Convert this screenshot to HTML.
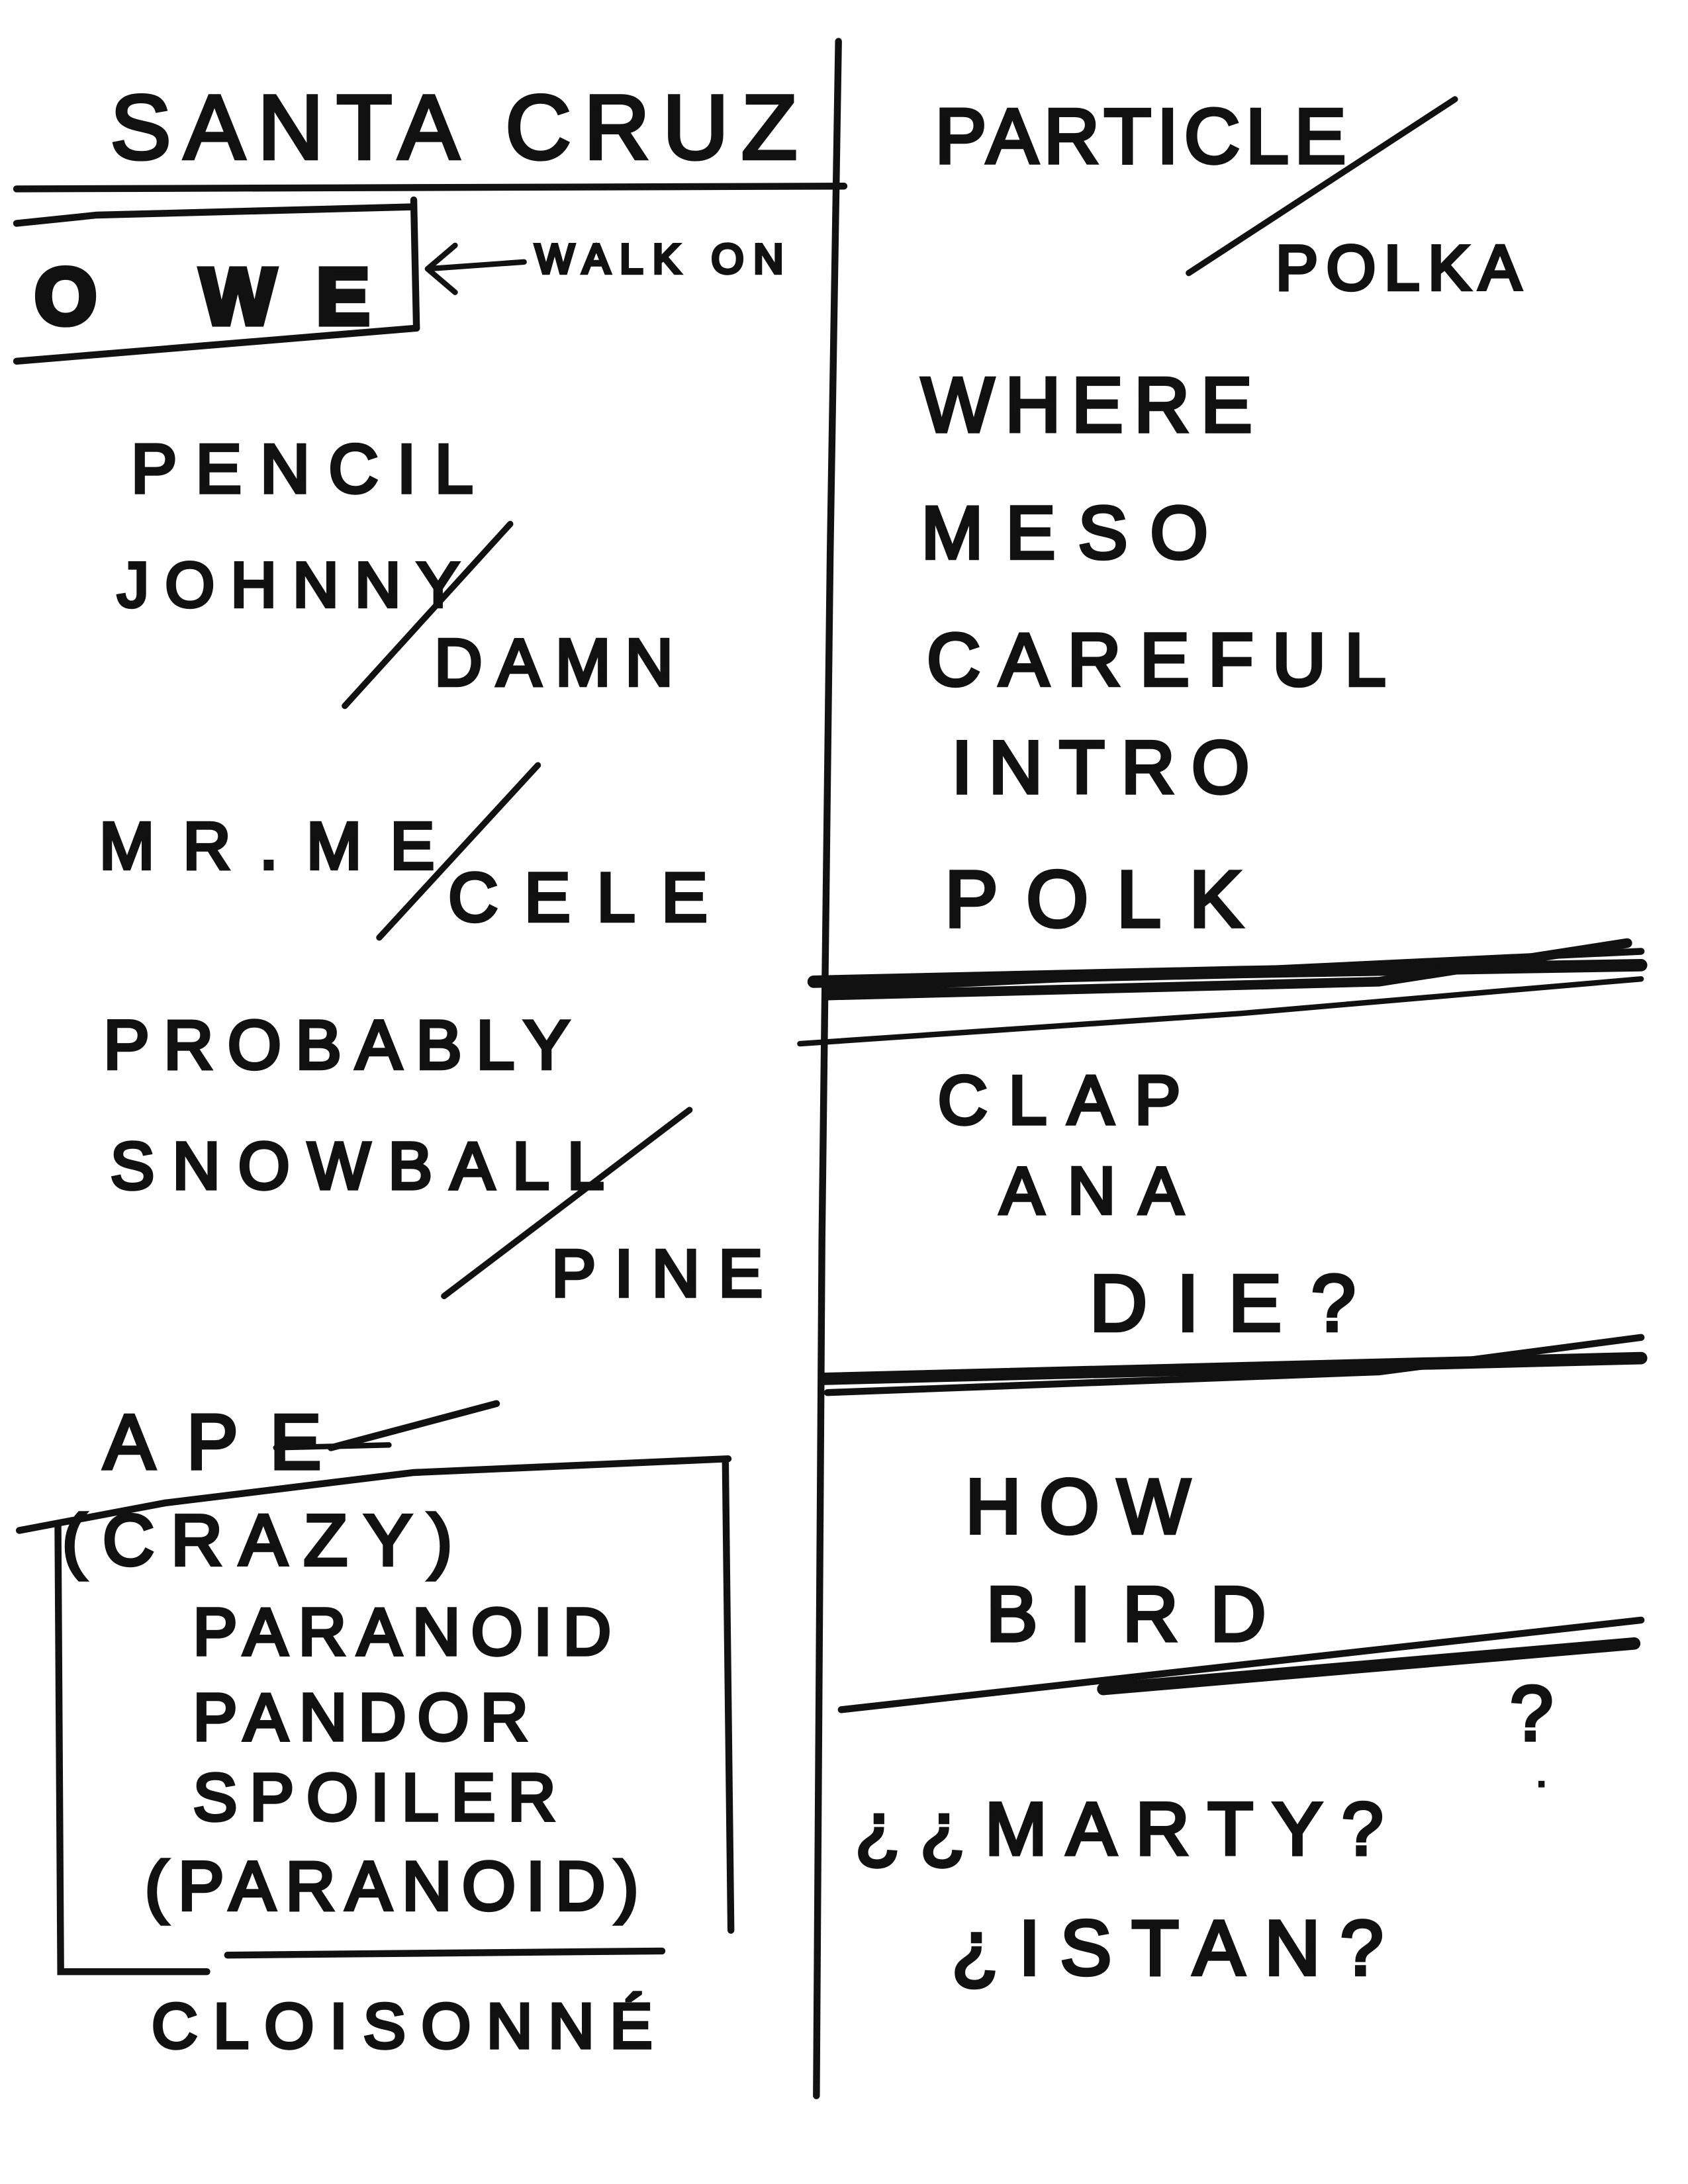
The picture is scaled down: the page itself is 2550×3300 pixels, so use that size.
<!DOCTYPE html>
<html><head><meta charset="utf-8"><style>
html,body{margin:0;padding:0;background:#fff;}
svg{display:block;}
text{font-family:"Liberation Sans",sans-serif;fill:#111;stroke:#111;stroke-width:2.6;letter-spacing:2px;}
</style></head><body>
<svg width="2550" height="3300" viewBox="0 0 1224 1584" xmlns="http://www.w3.org/2000/svg">
<rect width="1224" height="1584" fill="#fff"/>
<g stroke="#111" stroke-linecap="round" fill="none">
<path d="M608 30 L602 400 L596 900 L592 1520" stroke-width="5"/>
<path d="M12 137 L612 135" stroke-width="5"/>
<path d="M12 162 L70 156 L300 150" stroke-width="5"/>
<path d="M300 145 L302 238" stroke-width="5"/>
<path d="M12 262 L302 238" stroke-width="5"/>
<path d="M310 195 L380 190 M310 195 L330 178 M310 195 L330 212" stroke-width="4"/>
<path d="M862 198 L1055 72" stroke-width="4.5"/>
<path d="M250 512 L370 380" stroke-width="4.5"/>
<path d="M275 680 L390 555" stroke-width="4.5"/>
<path d="M322 940 L500 805" stroke-width="4.5"/>
<path d="M240 1050 L360 1018" stroke-width="5"/>
<path d="M200 1050 L282 1048" stroke-width="4"/>
<path d="M14 1110 L120 1090 L300 1068 L528 1058" stroke-width="5"/>
<path d="M42 1105 L44 1430 L150 1430" stroke-width="5"/>
<path d="M526 1060 L530 1400" stroke-width="5"/>
<path d="M165 1418 L480 1415" stroke-width="5"/>
<path d="M590 712 L900 705 L1190 700" stroke-width="9"/>
<path d="M600 722 L1000 712 L1180 684" stroke-width="7"/>
<path d="M600 718 L1190 690" stroke-width="5"/>
<path d="M580 757 L900 735 L1190 710" stroke-width="4"/>
<path d="M598 1000 L1190 985" stroke-width="9"/>
<path d="M600 1010 L1000 995 L1190 970" stroke-width="5"/>
<path d="M610 1240 L1190 1175" stroke-width="5"/>
<path d="M800 1225 L1185 1192" stroke-width="9"/>
</g>
<g>
<text x="80" y="115" font-size="66" textLength="500">SANTA CRUZ</text>
<text x="678" y="118" font-size="56" textLength="300">PARTICLE</text>
<text x="925" y="210" font-size="46" textLength="180">POLKA</text>
<text x="25" y="235" font-size="58" font-weight="bold" textLength="245" style="stroke-width:4">O WE</text>
<text x="388" y="198" font-size="30" textLength="182">WALK ON</text>
<text x="95" y="357" font-size="50" textLength="250">PENCIL</text>
<text x="85" y="440" font-size="46" textLength="250">JOHNNY</text>
<text x="315" y="497" font-size="48" textLength="175">DAMN</text>
<text x="72" y="630" font-size="48" textLength="245">MR.ME</text>
<text x="325" y="668" font-size="50" textLength="190">CELE</text>
<text x="75" y="775" font-size="50" textLength="340">PROBABLY</text>
<text x="80" y="862" font-size="48" textLength="360">SNOWBALL</text>
<text x="400" y="940" font-size="48" textLength="155">PINE</text>
<text x="75" y="1065" font-size="56" textLength="160">APE</text>
<text x="45" y="1135" font-size="52" textLength="285">(CRAZY)</text>
<text x="140" y="1200" font-size="48" textLength="305">PARANOID</text>
<text x="140" y="1262" font-size="48" textLength="245">PANDOR</text>
<text x="140" y="1320" font-size="48" textLength="265">SPOILER</text>
<text x="105" y="1385" font-size="50" textLength="360">(PARANOID)</text>
<text x="110" y="1485" font-size="46" textLength="365">CLOISONNÉ</text>
<text x="668" y="313" font-size="56" textLength="242">WHERE</text>
<text x="668" y="405" font-size="54" textLength="210">MESO</text>
<text x="672" y="497" font-size="54" textLength="335">CAREFUL</text>
<text x="690" y="575" font-size="54" textLength="218">INTRO</text>
<text x="685" y="672" font-size="58" textLength="218">POLK</text>
<text x="680" y="815" font-size="50" textLength="178">CLAP</text>
<text x="725" y="880" font-size="48" textLength="135">ANA</text>
<text x="790" y="965" font-size="58" textLength="195">DIE?</text>
<text x="700" y="1112" font-size="56" textLength="165">HOW</text>
<text x="715" y="1190" font-size="56" textLength="205">BIRD</text>
<text x="1095" y="1262" font-size="56">?</text>
<text x="1115" y="1295" font-size="20">.</text>
<text x="620" y="1345" font-size="54" textLength="385">¿¿MARTY?</text>
<text x="690" y="1432" font-size="56" textLength="315">¿ISTAN?</text>
</g>
</svg>
</body></html>
